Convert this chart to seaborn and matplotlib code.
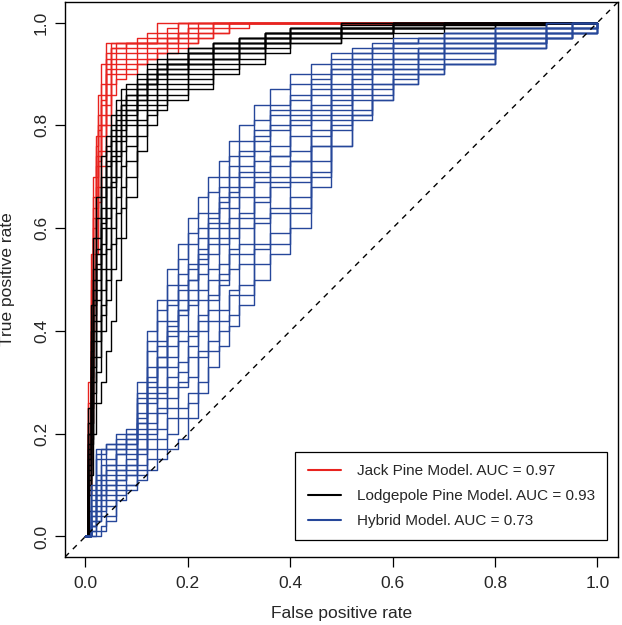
import pandas as pd
import matplotlib.pyplot as plt
import seaborn as sns
from matplotlib.lines import Line2D

# ROC curves (bootstrap replicates per model)
jack_fpr = [0, .005, .01, .015, .02, .025, .03, .04, .05, .06, .08, .10, .12,
            .14, .16, .18, .20, .22, .25, .28, .32, .40, 1.0]
jack_tpr = [
    [0, .30, .55, .70, .78, .86, .92, .96, .96, .96, .96, .97, .98, 1, 1, 1, 1, 1, 1, 1, 1, 1, 1],
    [0, .20, .45, .62, .74, .80, .86, .93, .95, .96, .96, .96, .96, .97, .98, 1, 1, 1, 1, 1, 1, 1, 1],
    [0, .15, .35, .55, .68, .75, .80, .88, .92, .93, .94, .95, .96, .96, .97, .98, 1, 1, 1, 1, 1, 1, 1],
    [0, .10, .30, .50, .62, .72, .78, .84, .90, .91, .92, .93, .94, .95, .96, .96, .97, .98, 1, 1, 1, 1, 1],
    [0, .12, .25, .45, .58, .68, .75, .82, .88, .90, .91, .92, .93, .94, .94, .95, .96, .97, .98, 1, 1, 1, 1],
    [0, .25, .50, .66, .76, .82, .88, .94, .96, .96, .96, .96, .97, .98, .99, 1, 1, 1, 1, 1, 1, 1, 1],
    [0, .18, .40, .60, .70, .78, .84, .90, .93, .94, .95, .96, .96, .96, .97, .98, .98, .99, 1, 1, 1, 1, 1],
    [0, .08, .22, .40, .55, .65, .72, .80, .86, .89, .90, .92, .93, .94, .95, .96, .96, .97, .98, .99, 1, 1, 1],
    [0, .22, .42, .58, .66, .74, .82, .91, .94, .95, .96, .96, .96, .96, .96, .97, .99, 1, 1, 1, 1, 1, 1],
    [0, .14, .33, .52, .64, .73, .80, .86, .91, .92, .93, .94, .95, .95, .96, .97, .97, .98, .99, 1, 1, 1, 1],
    [0, .26, .48, .64, .72, .79, .85, .92, .95, .95, .96, .96, .96, .97, .97, .98, .99, .99, 1, 1, 1, 1, 1],
]

lodge_fpr = [0, .005, .01, .015, .02, .03, .04, .05, .06, .07, .08, .10, .12,
             .14, .16, .20, .25, .30, .35, .40, .50, .60, .70, .80, .90, 1.0]
lodge_tpr = [
    [0, .25, .45, .58, .66, .74, .78, .82, .85, .87, .88, .90, .92, .93, .94, .95, .96, .97, .98, .99, 1, 1, 1, 1, 1, 1],
    [0, .20, .38, .50, .58, .68, .75, .79, .82, .84, .86, .88, .90, .92, .93, .94, .96, .97, .98, .99, .995, 1, 1, 1, 1, 1],
    [0, .15, .30, .42, .50, .60, .68, .74, .78, .81, .83, .86, .88, .90, .91, .93, .95, .96, .97, .98, .99, 1, 1, 1, 1, 1],
    [0, .12, .25, .35, .42, .52, .60, .68, .73, .77, .80, .84, .86, .88, .90, .92, .94, .95, .97, .98, .99, .995, 1, 1, 1, 1],
    [0, .10, .20, .30, .38, .45, .52, .60, .66, .72, .76, .81, .84, .86, .88, .90, .93, .94, .96, .97, .98, .99, .995, 1, 1, 1],
    [0, .08, .18, .26, .32, .40, .46, .52, .58, .64, .70, .78, .82, .84, .86, .88, .91, .93, .95, .96, .98, .99, .99, .995, 1, 1],
    [0, .18, .35, .46, .55, .64, .72, .77, .80, .83, .85, .87, .89, .91, .92, .94, .95, .96, .98, .99, 1, 1, 1, 1, 1, 1],
    [0, .14, .28, .40, .48, .57, .64, .70, .75, .79, .82, .85, .87, .89, .90, .92, .94, .95, .97, .98, .99, .995, 1, 1, 1, 1],
    [0, .05, .12, .20, .26, .30, .36, .42, .50, .58, .66, .75, .80, .83, .85, .87, .90, .92, .94, .96, .97, .98, .99, .99, 1, 1],
    [0, .22, .40, .52, .62, .70, .76, .80, .83, .85, .87, .89, .91, .92, .93, .95, .96, .97, .98, .99, .99, 1, 1, 1, 1, 1],
    [0, .16, .33, .45, .53, .62, .70, .75, .79, .82, .84, .87, .89, .91, .92, .93, .95, .96, .97, .98, .99, 1, 1, 1, 1, 1],
    [0, .11, .22, .33, .40, .48, .56, .64, .70, .75, .78, .83, .85, .87, .89, .91, .93, .95, .96, .97, .98, .99, 1, 1, 1, 1],
    [0, .20, .36, .48, .56, .66, .73, .78, .81, .84, .86, .88, .90, .91, .92, .94, .95, .96, .97, .98, .99, 1, 1, 1, 1, 1],
    [0, .13, .26, .38, .46, .55, .62, .69, .74, .78, .81, .85, .88, .90, .91, .92, .93, .95, .96, .97, .98, .99, 1, 1, 1, 1],
    [0, .09, .19, .28, .35, .43, .50, .57, .63, .68, .73, .80, .83, .85, .87, .89, .92, .94, .96, .97, .98, .99, .99, 1, 1, 1],
    [0, .17, .31, .43, .52, .61, .68, .73, .77, .80, .83, .86, .88, .90, .92, .94, .96, .97, .98, .98, .99, .99, 1, 1, 1, 1],
]

hybrid_fpr = [0, .01, .02, .03, .04, .06, .08, .10, .12, .14, .16, .18, .20, .22,
              .24, .26, .28, .30, .33, .36, .40, .44, .48, .52, .56, .60, .65,
              .70, .80, .90, .95, 1.0]
hybrid_tpr = [
    [0, .10, .17, .17, .18, .20, .21, .30, .40, .46, .52, .57, .62, .66, .70, .73, .77, .80, .84, .87, .90, .92, .94, .95, .96, .97, .97, .98, .99, 1, 1, 1],
    [0, .09, .16, .16, .17, .19, .20, .28, .38, .44, .49, .54, .59, .63, .67, .70, .74, .77, .81, .84, .88, .90, .93, .94, .95, .96, .96, .98, .99, 1, 1, 1],
    [0, .06, .12, .15, .17, .18, .19, .26, .36, .42, .46, .51, .57, .60, .63, .68, .72, .75, .79, .83, .85, .88, .91, .93, .94, .96, .96, .97, .98, .99, 1, 1],
    [0, .03, .08, .14, .15, .17, .18, .27, .33, .38, .45, .49, .52, .56, .62, .66, .68, .71, .77, .80, .82, .86, .90, .92, .93, .95, .95, .97, .98, .99, .99, 1],
    [0, .07, .10, .12, .14, .16, .17, .22, .31, .37, .40, .44, .50, .55, .58, .61, .66, .70, .73, .76, .81, .84, .88, .91, .92, .94, .95, .96, .97, .99, 1, 1],
    [0, .04, .11, .12, .12, .14, .16, .24, .29, .33, .39, .44, .46, .51, .57, .58, .62, .68, .70, .74, .80, .82, .86, .90, .91, .93, .94, .96, .97, .98, .99, 1],
    [0, .05, .08, .10, .11, .13, .15, .20, .28, .33, .35, .40, .45, .48, .52, .57, .60, .63, .69, .72, .75, .81, .85, .89, .91, .92, .94, .95, .97, .98, .99, 1],
    [0, .02, .07, .08, .10, .13, .14, .19, .26, .28, .33, .38, .40, .46, .50, .53, .58, .62, .65, .70, .73, .79, .83, .87, .90, .91, .93, .95, .96, .98, .99, 1],
    [0, .04, .05, .07, .09, .11, .14, .17, .22, .27, .31, .32, .37, .43, .46, .50, .56, .57, .62, .68, .70, .76, .82, .86, .88, .91, .93, .94, .96, .98, .98, 1],
    [0, .01, .05, .06, .08, .11, .12, .17, .20, .25, .29, .30, .35, .40, .44, .49, .52, .55, .61, .64, .69, .76, .81, .85, .88, .90, .92, .94, .96, .97, .99, 1],
    [0, .02, .03, .05, .07, .10, .12, .14, .19, .21, .25, .29, .31, .36, .42, .44, .48, .53, .57, .63, .66, .73, .80, .83, .87, .90, .91, .93, .96, .97, .98, 1],
    [0, 0, .03, .04, .06, .09, .10, .13, .17, .19, .23, .25, .28, .35, .38, .42, .47, .49, .56, .59, .64, .71, .79, .82, .86, .89, .91, .92, .95, .97, .98, 1],
    [0, .01, .01, .02, .04, .08, .10, .12, .15, .17, .20, .23, .26, .30, .36, .40, .43, .47, .53, .57, .63, .70, .76, .82, .85, .88, .90, .92, .95, .97, .98, 1],
    [0, 0, 0, .01, .03, .07, .09, .11, .13, .15, .17, .19, .23, .28, .33, .37, .41, .45, .50, .55, .60, .68, .76, .81, .85, .88, .90, .92, .95, .97, .98, 1],
    [0, .08, .15, .17, .18, .18, .19, .22, .27, .35, .42, .48, .53, .58, .61, .65, .70, .74, .78, .82, .86, .89, .92, .94, .95, .96, .97, .98, .99, .99, 1, 1],
    [0, .03, .06, .09, .13, .17, .20, .21, .24, .29, .37, .43, .50, .54, .60, .64, .67, .72, .75, .79, .83, .87, .91, .93, .95, .96, .97, .97, .98, .99, 1, 1],
    [0, .02, .04, .08, .10, .12, .13, .16, .21, .24, .27, .34, .39, .42, .47, .51, .55, .60, .66, .69, .73, .78, .84, .88, .91, .93, .94, .95, .97, .98, .99, 1],
    [0, .05, .09, .11, .14, .16, .18, .23, .30, .35, .41, .46, .48, .53, .55, .60, .64, .66, .71, .74, .78, .83, .87, .90, .92, .94, .95, .96, .98, .99, 1, 1],
]

models = ['Jack Pine Model. AUC = 0.97',
          'Lodgepole Pine Model. AUC = 0.93',
          'Hybrid Model. AUC = 0.73']
colors = ['#E8231F', '#000000', '#26479A']

rows = []
for name, fpr, curves in zip(models, [jack_fpr, lodge_fpr, hybrid_fpr],
                             [jack_tpr, lodge_tpr, hybrid_tpr]):
    for i, tpr in enumerate(curves):
        for x, y in zip(fpr, tpr):
            rows.append({'model': name, 'curve': f'{name}-{i}', 'fpr': x, 'tpr': y})
df = pd.DataFrame(rows)

sns.set_style('white')
plt.rcParams['font.family'] = ['Liberation Sans', 'DejaVu Sans']

fig = plt.figure(figsize=(6.22, 6.25), dpi=100)
ax = fig.add_axes([0.1045, 0.1088, 0.889, 0.888])

sns.lineplot(data=df, x='fpr', y='tpr', hue='model', hue_order=models,
             palette=colors, units='curve', estimator=None, sort=False,
             drawstyle='steps-post', lw=1.0, legend=False, ax=ax)
ax.axline((0, 0), (1, 1), color='black', ls=(0, (4, 4)), lw=1)

ax.set_xlim(-0.04, 1.04)
ax.set_ylim(-0.04, 1.04)
ticks = [0, 0.2, 0.4, 0.6, 0.8, 1.0]
ax.set_xticks(ticks)
ax.set_yticks(ticks)
ax.set_xticklabels([f'{t:.1f}' for t in ticks])
ax.set_yticklabels([f'{t:.1f}' for t in ticks], rotation=90, va='center')
ax.tick_params(axis='both', direction='out', length=7.5, width=0.9,
               labelsize=12.5, color='black', bottom=True, left=True)
ax.tick_params(axis='x', pad=6)
ax.tick_params(axis='y', pad=4)
for s in ax.spines.values():
    s.set_color('black')
    s.set_linewidth(1)

ax.set_xlabel('False positive rate', fontsize=12.5)
ax.set_ylabel('True positive rate', fontsize=12.5)
ax.xaxis.set_label_coords(0.5, -0.088)
ax.yaxis.set_label_coords(-0.090, 0.5)

handles = [Line2D([], [], color=c, lw=1.5) for c in colors]
leg = ax.legend(handles, models, loc='lower right', bbox_to_anchor=(0.98, 0.03),
                fontsize=11, frameon=True, fancybox=False, framealpha=1,
                edgecolor='black', handlelength=2.2, handletextpad=1.0,
                borderpad=0.8, labelspacing=0.72, borderaxespad=0)
leg.get_frame().set_linewidth(0.9)

fig.savefig('out.png', dpi=100)
